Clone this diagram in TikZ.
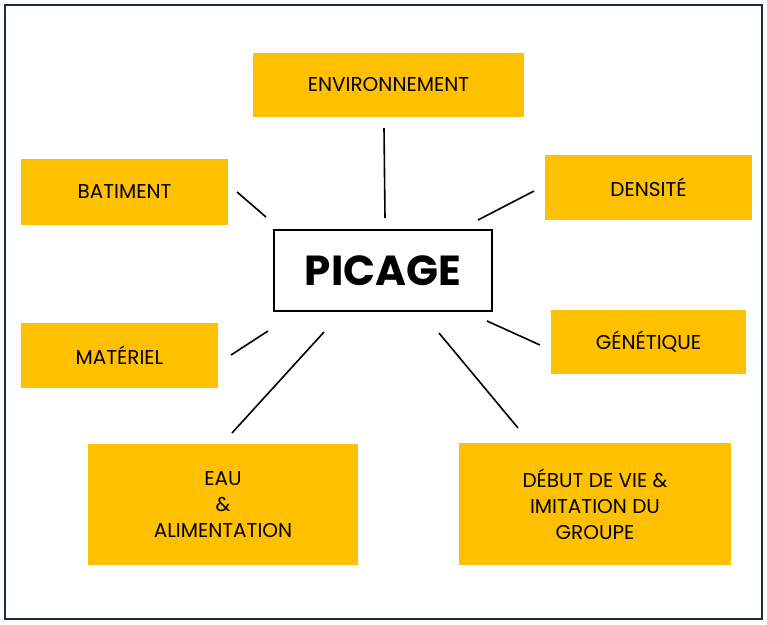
\documentclass[tikz,border=0pt]{standalone}
\usepackage{fontspec}
\setmainfont{Poppins}
\definecolor{orangebox}{HTML}{FFC000}
\definecolor{frame}{HTML}{1F2A3A}
\begin{document}
\begin{tikzpicture}[x=1pt,y=-1pt,
  box/.style={fill=orangebox,draw=none,font=\fontsize{20}{26}\selectfont,align=center,inner sep=0pt},
  link/.style={line width=1.6pt,black}]
\useasboundingbox (0,0) rectangle (767,624);
\draw[frame,line width=1.2pt] (5,5) rectangle (762,619);
\node[box,minimum width=271,minimum height=64] (env) at (388.5,85) {ENVIRONNEMENT};
\node[box,minimum width=207,minimum height=66] (bat) at (124.5,192) {BATIMENT};
\node[box,minimum width=207,minimum height=65] (den) at (648.5,187.5) {DENSITÉ};
\node[draw=black,line width=2pt,fill=white,minimum width=218,minimum height=81,inner sep=0pt,font=\fontsize{42}{50}\selectfont\bfseries] (pic) at (383,270.5) {PICAGE};
\node[box,minimum width=197,minimum height=65] (mat) at (119.5,355.5) {MATÉRIEL};
\node[box,minimum width=195,minimum height=64] (gen) at (648.5,342) {GÉNÉTIQUE};
\node[box,minimum width=270,minimum height=121] (eau) at (223,504.5) {EAU\\\&\\ALIMENTATION};
\node[box,minimum width=272,minimum height=122] (deb) at (595,504) {DÉBUT DE VIE \&\\IMITATION DU\\GROUPE};
\coordinate (a1) at (384,128); \coordinate (a2) at (385,218);
\coordinate (b1) at (237,192); \coordinate (b2) at (266,217);
\coordinate (c1) at (534,191); \coordinate (c2) at (478,220);
\coordinate (d1) at (268,331); \coordinate (d2) at (231,355);
\coordinate (e1) at (487,321); \coordinate (e2) at (540,345);
\coordinate (f1) at (324,332); \coordinate (f2) at (232,433);
\coordinate (g1) at (439,333); \coordinate (g2) at (518,428);
\draw[link] (a1) -- (a2);
\draw[link] (b1) -- (b2);
\draw[link] (c1) -- (c2);
\draw[link] (d1) -- (d2);
\draw[link] (e1) -- (e2);
\draw[link] (f1) -- (f2);
\draw[link] (g1) -- (g2);
\end{tikzpicture}
\end{document}
